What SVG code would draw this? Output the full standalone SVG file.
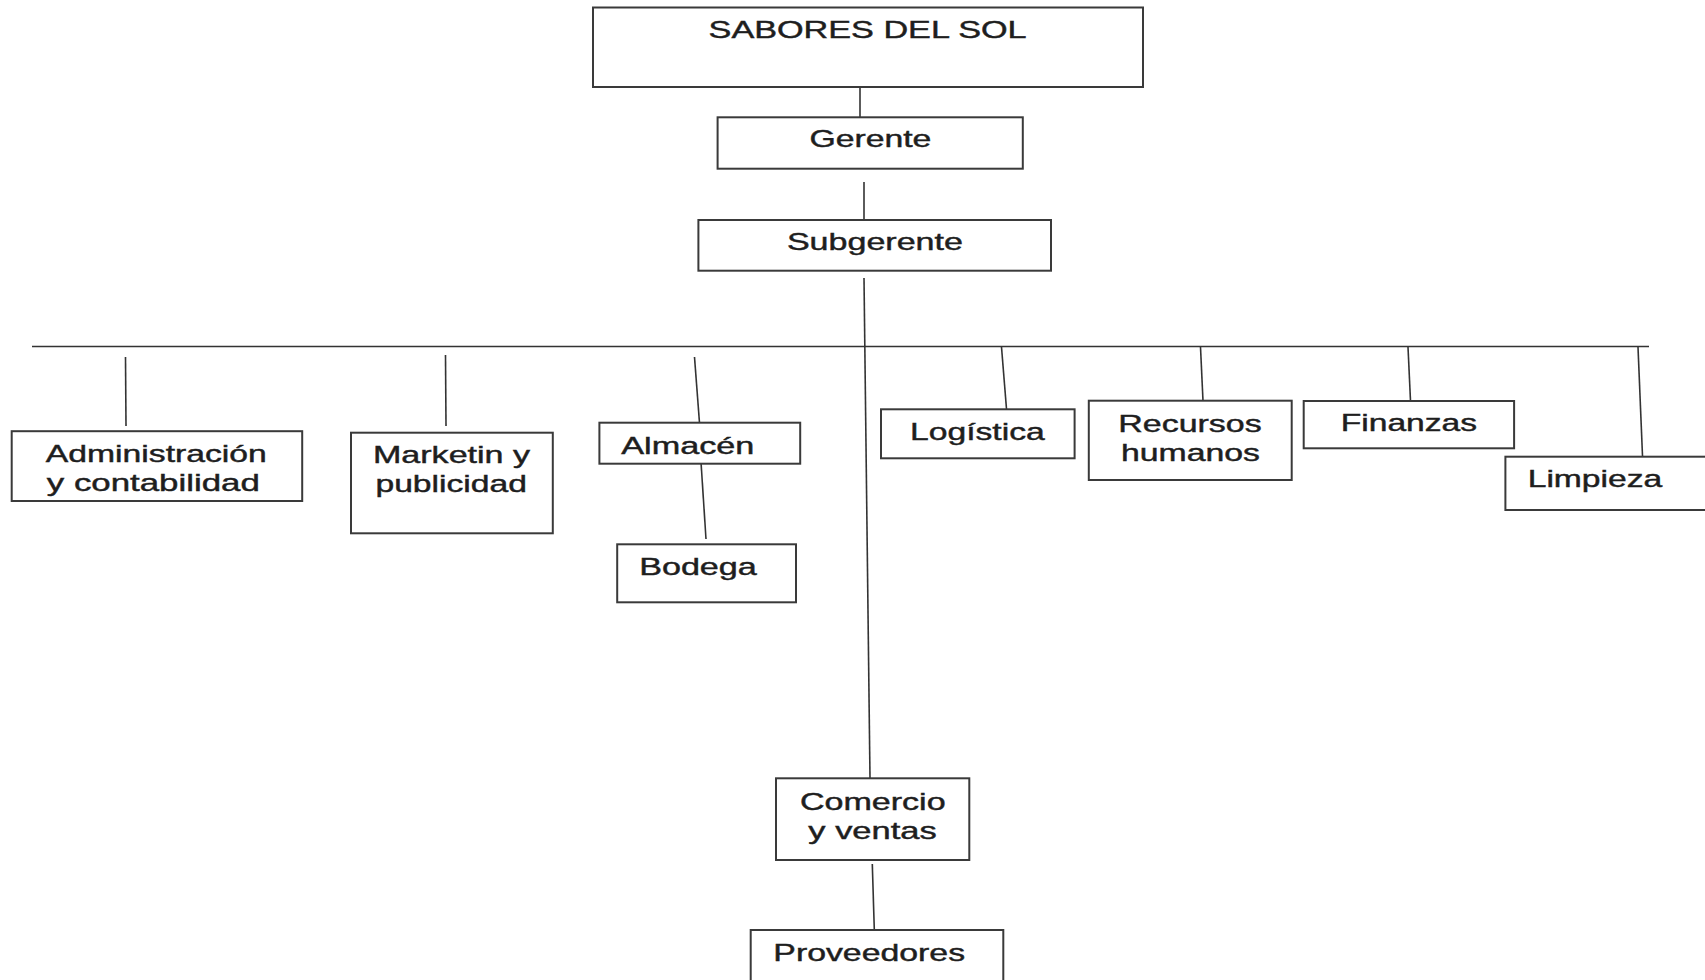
<svg xmlns="http://www.w3.org/2000/svg" width="1705" height="980" viewBox="0 0 1705 980">
<style>
.box{fill:#fff;stroke:#3a3a3a;stroke-width:2}
.ln{stroke:#333;stroke-width:1.6;fill:none}
text{font-family:"Liberation Sans",Arial,sans-serif;font-size:24.5px;fill:#1e1e1e;stroke:#1e1e1e;stroke-width:0.45;text-anchor:middle}
</style>
<rect width="1705" height="980" fill="#fff"/>
<g id="connectors">
<line class="ln" x1="860" y1="87" x2="860" y2="117"/>
<line class="ln" x1="864" y1="182" x2="864" y2="220"/>
<line class="ln" x1="864" y1="278" x2="870" y2="778"/>
<line class="ln" x1="32" y1="346.5" x2="1649" y2="346.5"/>
<line class="ln" x1="125.5" y1="357" x2="126" y2="426"/>
<line class="ln" x1="445.5" y1="355" x2="446" y2="426"/>
<line class="ln" x1="694.5" y1="357" x2="699.5" y2="423"/>
<line class="ln" x1="701" y1="462" x2="706" y2="539"/>
<line class="ln" x1="1001.5" y1="347" x2="1006.5" y2="409"/>
<line class="ln" x1="1200.5" y1="347" x2="1203" y2="401"/>
<line class="ln" x1="1408" y1="347" x2="1410.5" y2="401"/>
<line class="ln" x1="1638" y1="347" x2="1642.5" y2="456"/>
<line class="ln" x1="872.3" y1="864" x2="874.3" y2="930"/>
</g>
<g id="sabores">
<rect class="box" x="593" y="7.5" width="550" height="79.5"/>
<text x="867.6" y="38" textLength="318" lengthAdjust="spacingAndGlyphs">SABORES DEL SOL</text>
</g>
<g id="gerente">
<rect class="box" x="717.6" y="117.3" width="305.2" height="51.4"/>
<text x="870.4" y="146.7" textLength="122" lengthAdjust="spacingAndGlyphs">Gerente</text>
</g>
<g id="subgerente">
<rect class="box" x="698.4" y="220" width="352.6" height="50.7"/>
<text x="874.9" y="250" textLength="176" lengthAdjust="spacingAndGlyphs">Subgerente</text>
</g>
<g id="administracion">
<rect class="box" x="11.7" y="431.2" width="290.5" height="69.8"/>
<text x="156.3" y="461.7" textLength="221" lengthAdjust="spacingAndGlyphs">Administración</text>
<text x="153.3" y="490.7" textLength="213" lengthAdjust="spacingAndGlyphs">y contabilidad</text>
</g>
<g id="marketin">
<rect class="box" x="351" y="432.7" width="201.8" height="100.6"/>
<text x="451.5" y="462.7" textLength="157" lengthAdjust="spacingAndGlyphs">Marketin y</text>
<text x="451.2" y="492.3" textLength="151.5" lengthAdjust="spacingAndGlyphs">publicidad</text>
</g>
<g id="almacen">
<rect class="box" x="599.4" y="422.7" width="200.8" height="41"/>
<text x="687.8" y="454" textLength="133" lengthAdjust="spacingAndGlyphs">Almacén</text>
</g>
<g id="bodega">
<rect class="box" x="617.2" y="544.3" width="178.8" height="58"/>
<text x="698" y="575" textLength="117.7" lengthAdjust="spacingAndGlyphs">Bodega</text>
</g>
<g id="logistica">
<rect class="box" x="881" y="409.3" width="193.6" height="49"/>
<text x="977.4" y="440" textLength="134.7" lengthAdjust="spacingAndGlyphs">Logística</text>
</g>
<g id="recursos">
<rect class="box" x="1088.8" y="400.7" width="202.9" height="79.3"/>
<text x="1190" y="431.7" textLength="143.4" lengthAdjust="spacingAndGlyphs">Recursos</text>
<text x="1190.5" y="461" textLength="139" lengthAdjust="spacingAndGlyphs">humanos</text>
</g>
<g id="finanzas">
<rect class="box" x="1303.7" y="401" width="210.4" height="47.3"/>
<text x="1408.9" y="431" textLength="136.3" lengthAdjust="spacingAndGlyphs">Finanzas</text>
</g>
<g id="limpieza">
<rect class="box" x="1505.4" y="456.7" width="215" height="53.3"/>
<text x="1595" y="487.3" textLength="134.6" lengthAdjust="spacingAndGlyphs">Limpieza</text>
</g>
<g id="comercio">
<rect class="box" x="776" y="778.3" width="193.3" height="81.7"/>
<text x="872.8" y="810" textLength="145.7" lengthAdjust="spacingAndGlyphs">Comercio</text>
<text x="872.5" y="839.3" textLength="128.3" lengthAdjust="spacingAndGlyphs">y ventas</text>
</g>
<g id="proveedores">
<rect class="box" x="750.7" y="930" width="252.6" height="60"/>
<text x="869.2" y="960.7" textLength="191.7" lengthAdjust="spacingAndGlyphs">Proveedores</text>
</g>
</svg>
